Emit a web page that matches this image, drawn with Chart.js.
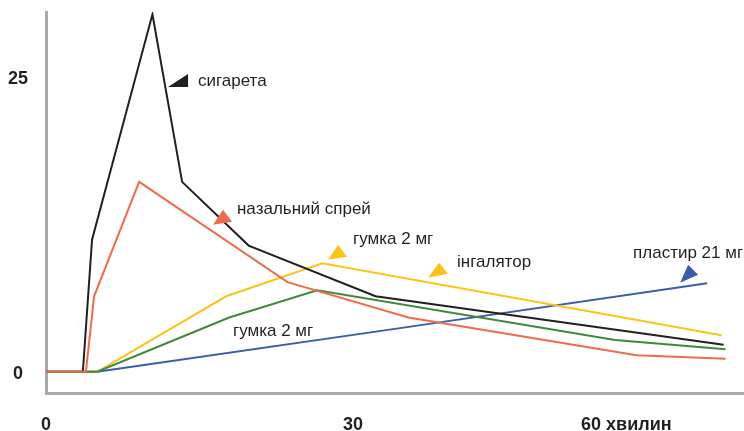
<!DOCTYPE html>
<html>
<head>
<meta charset="utf-8">
<script src="https://cdn.jsdelivr.net/npm/chart.js@4/dist/chart.umd.min.js"></script>
<style>
  html, body { margin: 0; padding: 0; background: #fff; }
  #wrap { width: 744px; height: 431px; }
</style>
</head>
<body>
<div id="wrap"><canvas id="chart"></canvas></div>
<script>
// minutes after start / nicotine level
const cigaretteX = [0, 3.6, 4.5, 10.4, 13.3, 19.8, 32.2, 66.2];
const cigaretteY = [0, 0, 11.2, 30.3, 16.1, 10.7, 6.4, 2.3];
const sprayX = [0, 3.9, 4.7, 9.1, 23.6, 35.4, 57.7, 66.4];
const sprayY = [0, 0, 6.4, 16.1, 7.6, 4.6, 1.4, 1.1];
const inhalerX = [0, 5.0, 17.6, 27.0, 66.0];
const inhalerY = [0, 0, 6.4, 9.2, 3.1];
const gumX = [0, 5.0, 17.9, 26.5, 55.6, 66.4];
const gumY = [0, 0, 4.6, 6.9, 2.7, 1.9];
const patchX = [0, 5.0, 34.6, 64.6];
const patchY = [0, 0, 3.7, 7.5];

const xTickValues = [0, 30, 56.7];
const xTickLabels = ['0', '30', '60 хвилин'];
const yTickValues = [0, 25];
const yTickLabels = ['0', '25'];

const labelTexts = ['сигарета', 'назальний спрей', 'гумка 2 мг', 'інгалятор', 'пластир 21 мг', 'гумка 2 мг'];
const labelX = [14.85, 18.66, 30.0, 40.16, 57.36, 18.27];
const labelY = [24.66, 13.81, 11.27, 9.32, 10.08, 3.39];

// arrow heads next to labels: [x1, y1, x2, y2, x3, y3] in data units
const arrowPoints = [
  [11.92, 24.15, 13.88, 25.25, 13.88, 24.15],
  [16.32, 12.46, 17.30, 13.73, 18.18, 12.71],
  [27.56, 9.49, 28.54, 10.76, 29.41, 9.75],
  [37.33, 7.97, 38.40, 9.24, 39.28, 8.31],
  [61.96, 7.54, 62.74, 9.07, 63.72, 8.22]
];
const arrowColors = ['#231f20', '#ef6b4b', '#fdc317', '#fdc317', '#3b5ca8'];

const TEXT = '#231f20';
const AXIS = '#a7a9ac';

const toPoints = (xs, ys) => xs.map((x, i) => ({ x, y: ys[i] }));

const line = (data, color) => ({
  data,
  borderColor: color,
  borderWidth: 2,
  pointRadius: 0,
  fill: false,
  tension: 0
});

// fixed axis boxes, no auto padding from the labels
const fixSize = (width, height) => (scale) => {
  if (width != null) scale.width = width;
  if (height != null) scale.height = height;
  scale.paddingTop = 0;
  scale.paddingBottom = 0;
  scale.paddingLeft = 0;
  scale.paddingRight = 0;
};

const annotations = {
  id: 'annotations',
  afterDatasetsDraw(chart) {
    const { ctx, scales: { x, y } } = chart;
    ctx.save();
    arrowPoints.forEach((p, i) => {
      ctx.beginPath();
      ctx.moveTo(x.getPixelForValue(p[0]), y.getPixelForValue(p[1]));
      ctx.lineTo(x.getPixelForValue(p[2]), y.getPixelForValue(p[3]));
      ctx.lineTo(x.getPixelForValue(p[4]), y.getPixelForValue(p[5]));
      ctx.closePath();
      ctx.fillStyle = arrowColors[i];
      ctx.fill();
    });
    ctx.fillStyle = TEXT;
    ctx.font = '17px "Liberation Sans", Arial, sans-serif';
    ctx.textAlign = 'left';
    ctx.textBaseline = 'middle';
    labelTexts.forEach((t, i) => {
      ctx.fillText(t, x.getPixelForValue(labelX[i]), y.getPixelForValue(labelY[i]));
    });
    ctx.restore();
  }
};

const tickFont = { family: '"Liberation Sans", Arial, sans-serif', size: 18, weight: 'bold', lineHeight: 1 };

new Chart(document.getElementById('chart').getContext('2d'), {
  type: 'line',
  data: {
    // first dataset is drawn on top
    datasets: [
      line(toPoints(sprayX, sprayY), '#ef6b4b'),
      line(toPoints(gumX, gumY), '#3f8a3a'),
      line(toPoints(cigaretteX, cigaretteY), '#231f20'),
      line(toPoints(inhalerX, inhalerY), '#fdc317'),
      line(toPoints(patchX, patchY), '#3b5ca8')
    ]
  },
  options: {
    responsive: true,
    maintainAspectRatio: false,
    animation: false,
    layout: { padding: { left: 6, top: 12, right: 0, bottom: 0 } },
    scales: {
      x: {
        type: 'linear',
        min: 0,
        max: 68.2,
        afterBuildTicks: (scale) => { scale.ticks = xTickValues.map(value => ({ value })); },
        afterFit: fixSize(null, 38),
        ticks: {
          color: TEXT,
          font: tickFont,
          padding: 23,
          maxRotation: 0,
          autoSkip: false,
          callback: (value, index) => xTickLabels[index]
        },
        grid: { display: true, drawOnChartArea: false, drawTicks: false },
        border: { display: true, color: AXIS, width: 3 }
      },
      y: {
        type: 'linear',
        min: -1.8,
        max: 30.5,
        afterBuildTicks: (scale) => { scale.ticks = yTickValues.map(value => ({ value })); },
        afterFit: fixSize(40, null),
        ticks: {
          color: TEXT,
          font: tickFont,
          padding: 18,
          crossAlign: 'center',
          labelOffset: 2,
          autoSkip: false,
          callback: (value, index) => yTickLabels[index]
        },
        grid: { display: true, drawOnChartArea: false, drawTicks: false },
        border: { display: true, color: AXIS, width: 3 }
      }
    },
    plugins: {
      legend: { display: false },
      tooltip: { enabled: false }
    }
  },
  plugins: [annotations]
});
</script>
</body>
</html>
